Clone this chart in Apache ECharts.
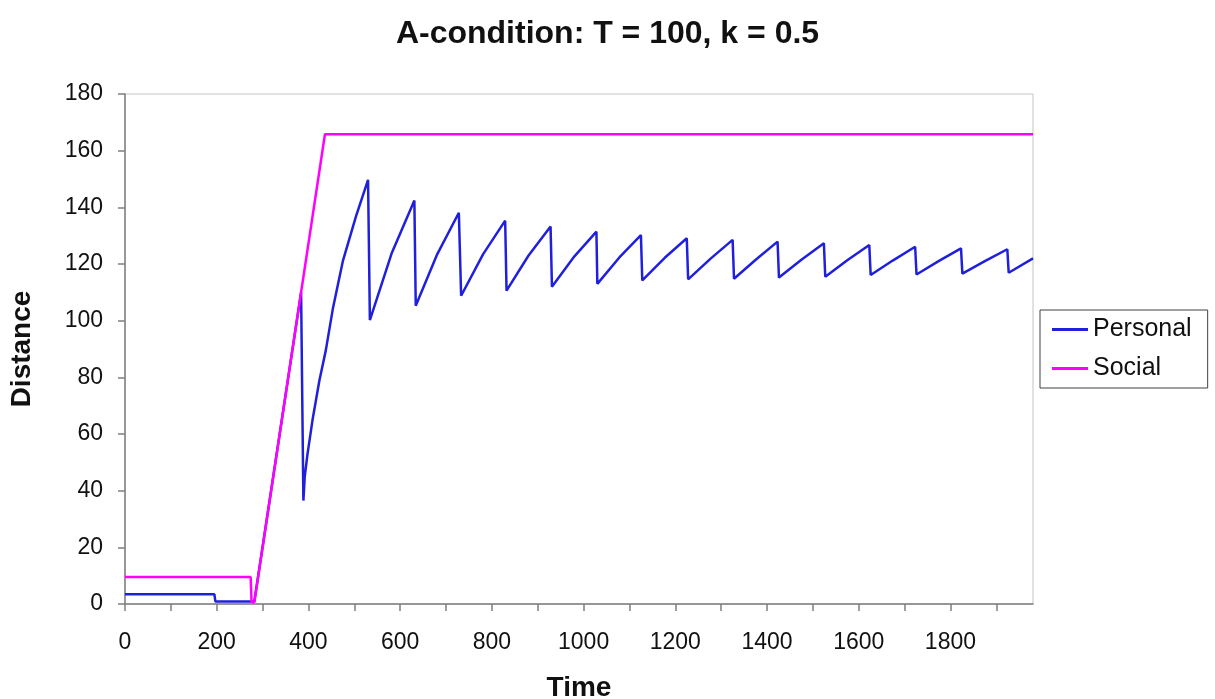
<!DOCTYPE html>
<html>
<head>
<meta charset="utf-8">
<script src="https://cdn.jsdelivr.net/npm/echarts@6/dist/echarts.min.js"></script>
<style>
html,body{margin:0;padding:0;background:#fff;}
#chart{width:1215px;height:699px;}
</style>
</head>
<body>
<div id="chart"></div>
<script>
// ---- data ----
var personalTime = [0,195,197,275,282,384,389,392,398,409,424,438,453,475,504,530,534,582,631,634,681,728,733,781,829,832,880,928,931,980,1028,1030,1078,1125,1128,1177,1225,1228,1277,1325,1328,1376,1423,1426,1475,1524,1527,1575,1623,1626,1675,1723,1726,1775,1823,1826,1875,1924,1927,1980];
var personalValue = [3.4,3.4,0.9,0.9,0.9,110,36.5,45,53,65,79,89.6,104,121,137,149.7,100.2,124,142.4,105.3,123.5,138.1,108.8,123.5,135.3,110.6,123,133.2,112,122.7,131.4,113,122.3,130.2,114.2,122.2,129.1,114.6,121.9,128.5,114.8,121.6,127.9,115.2,121.5,127.3,115.5,121.3,126.7,116.1,121.3,126.1,116.3,121.1,125.5,116.6,121.0,125.2,116.9,122];
var socialTime = [0,274,276,282,436,1980];
var socialValue = [9.5,9.5,0.6,0.6,165.8,165.8];
var xTicks = [0,100,200,300,400,500,600,700,800,900,1000,1100,1200,1300,1400,1500,1600,1700,1800,1900];
var xLabels = [0,200,400,600,800,1000,1200,1400,1600,1800];
var seriesNames = ['Personal','Social'];

function pairs(xs, ys){ return xs.map(function(x,i){ return [x, ys[i]]; }); }

var chart = echarts.init(document.getElementById('chart'), null, {renderer:'canvas'});
var fontFam = '"Liberation Sans", Arial, sans-serif';
chart.setOption({
  animation:false,
  backgroundColor:'#ffffff',
  title:{
    text:'A-condition: T = 100, k = 0.5',
    left:'center', top:13,
    textStyle:{fontFamily:fontFam, fontSize:32, fontWeight:'bold', color:'#111'}
  },
  legend:{
    data:seriesNames,
    orient:'vertical',
    left:1040, top:310,
    padding:[7,16,7,12],
    itemGap:14,
    itemWidth:36, itemHeight:3,
    icon:'rect',
    borderColor:'#404040', borderWidth:1,
    backgroundColor:'#fff',
    textStyle:{fontFamily:fontFam, fontSize:25, color:'#111'}
  },
  grid:{
    left:125, top:94, right:182, bottom:95,
    outerBoundsMode:'none', containLabel:false,
    show:true, borderColor:'#c4c4c4', borderWidth:1, backgroundColor:'#fff'
  },
  xAxis:{
    type:'value', min:0, max:1980,
    name:'Time', nameLocation:'middle', nameGap:70,
    nameTextStyle:{fontFamily:fontFam, fontSize:28, fontWeight:'bold', color:'#111'},
    axisLine:{show:true, onZero:false, lineStyle:{color:'#7f7f7f', width:1.5}},
    axisTick:{show:true, inside:false, length:7, customValues:xTicks, lineStyle:{color:'#7f7f7f', width:1.5}},
    axisLabel:{margin:27, customValues:xLabels, formatter:function(v){return String(v);}, fontFamily:fontFam, fontSize:23, color:'#111'},
    splitLine:{show:false}
  },
  yAxis:{
    type:'value', min:0, max:180, interval:20,
    name:'Distance', nameLocation:'middle', nameGap:89,
    nameTextStyle:{fontFamily:fontFam, fontSize:28, fontWeight:'bold', color:'#111'},
    axisLine:{show:true, lineStyle:{color:'#7f7f7f', width:1.5}},
    axisTick:{show:true, inside:false, length:7, lineStyle:{color:'#7f7f7f', width:1.5}},
    axisLabel:{margin:22, fontFamily:fontFam, fontSize:23, color:'#111'},
    splitLine:{show:false}
  },
  series:[
    {name:'Personal', type:'line', data:pairs(personalTime, personalValue), showSymbol:false, symbol:'none',
     lineStyle:{color:'#2020dc', width:2.5}, itemStyle:{color:'#2020dc'}, z:2},
    {name:'Social', type:'line', data:pairs(socialTime, socialValue), showSymbol:false, symbol:'none',
     lineStyle:{color:'#ff00ff', width:2.5}, itemStyle:{color:'#ff00ff'}, z:3}
  ]
});
</script>
</body>
</html>
